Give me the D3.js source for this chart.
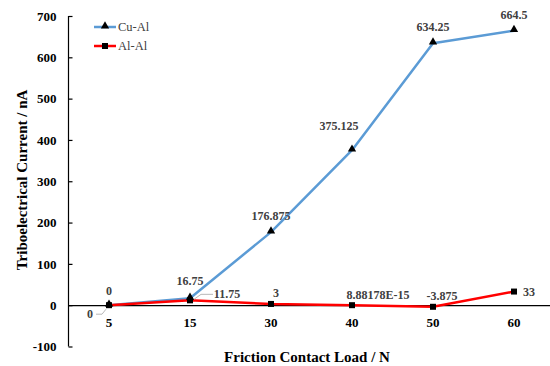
<!DOCTYPE html>
<html>
<head>
<meta charset="utf-8">
<script src="https://cdn.jsdelivr.net/npm/d3@7/dist/d3.min.js"></script>
<style>
  html, body { margin: 0; padding: 0; background: #fff; }
  svg { display: block; }
</style>
</head>
<body>
<div id="chart"></div>
<script>
// Friction contact loads (N) used as categories
const loads = ["5", "15", "30", "40", "50", "60"];
// Triboelectrical current (nA) for each material pair
const cuAl = [0, 16.75, 176.875, 375.125, 634.25, 664.5];
const alAl = [0, 11.75, 3, 8.88178e-15, -3.875, 33];
// Text shown next to each point
const cuAlLabels = ["0", "16.75", "176.875", "375.125", "634.25", "664.5"];
const alAlLabels = ["0", "11.75", "3", "8.88178E-15", "-3.875", "33"];
const yTicks = [-100, 0, 100, 200, 300, 400, 500, 600, 700];

const SERIF = "Liberation Serif";
const W = 550, H = 366;
const svg = d3.select("#chart").append("svg").attr("width", W).attr("height", H);

const x = d3.scaleBand().domain(loads).range([68.5, 554.5]);
const y = d3.scaleLinear().domain([-100, 700]).range([346.5, 16]);
const cx = d => x(d) + x.bandwidth() / 2;

// Y axis with inward ticks
const yAxis = svg.append("g").attr("transform", "translate(68.5,0)")
  .call(d3.axisLeft(y).tickValues(yTicks).tickSize(-4).tickFormat(d => String(d)));
yAxis.attr("font-family", SERIF);
yAxis.select(".domain").attr("stroke", "#000").attr("stroke-width", 1.2).attr("d", `M0,${y(-100)}V${y(700)}`);
yAxis.selectAll(".tick line").attr("stroke", "#000").attr("stroke-width", 1.2);
yAxis.selectAll(".tick text").attr("font-family", SERIF).attr("font-size", 13).attr("font-weight", "bold")
  .attr("fill", "#000").attr("x", -12);

// X axis on the zero line
const xAxis = svg.append("g").attr("transform", `translate(0,${y(0)})`)
  .call(d3.axisBottom(x).tickSize(0).tickPadding(13));
xAxis.attr("font-family", SERIF);
xAxis.select(".domain").attr("stroke", "#000").attr("stroke-width", 1.2);
xAxis.selectAll(".tick text").attr("font-family", SERIF).attr("font-size", 13).attr("font-weight", "bold").attr("fill", "#000");

// Axis titles
svg.append("text").attr("x", 307).attr("y", 362).attr("text-anchor", "middle")
  .attr("font-family", SERIF).attr("font-size", 15).attr("font-weight", "bold").attr("fill", "#000")
  .text("Friction Contact Load / N");
svg.append("text").attr("transform", "translate(27,180) rotate(-90)").attr("text-anchor", "middle")
  .attr("font-family", SERIF).attr("font-size", 15).attr("font-weight", "bold").attr("fill", "#000")
  .text("Triboelectrical Current / nA");

const line = d3.line().x((d, i) => cx(loads[i])).y(d => y(d));

// Cu-Al series
svg.append("path").datum(cuAl).attr("d", line).attr("fill", "none")
  .attr("stroke", "#5B9BD5").attr("stroke-width", 2.5).attr("stroke-linejoin", "round");
// Al-Al series
svg.append("path").datum(alAl).attr("d", line).attr("fill", "none")
  .attr("stroke", "#FF0000").attr("stroke-width", 2.5).attr("stroke-linejoin", "round");

const tri = d3.symbol().type(d3.symbolTriangle).size(30);
const sq = d3.symbol().type(d3.symbolSquare).size(36);

svg.selectAll(".cu").data(cuAl).enter().append("path")
  .attr("d", tri).attr("transform", (d, i) => `translate(${cx(loads[i])},${y(d) - 1})`).attr("fill", "#000");
svg.selectAll(".al").data(alAl).enter().append("path")
  .attr("d", sq).attr("transform", (d, i) => `translate(${cx(loads[i])},${y(d)})`).attr("fill", "#000");

// Data labels: offsets of the label centre from each point
const cuOff = [[0, -14], [0, -17], [0, -16], [-13, -24], [0, -16], [0, -16]];
const alOff = [[-19, 9], [37, -6], [5, -11], [26, -10], [9, -11], [15, 0]];
const labelG = svg.append("g");
const addLabel = (px, py, t) => labelG.append("text").attr("x", px).attr("y", py + 4)
  .attr("font-family", SERIF).attr("font-size", 12).attr("font-weight", "bold").attr("fill", "#404040")
  .attr("text-anchor", "middle").text(t);
cuAl.forEach((v, i) => addLabel(cx(loads[i]) + cuOff[i][0], y(v) + cuOff[i][1], cuAlLabels[i]));
alAl.forEach((v, i) => addLabel(cx(loads[i]) + alOff[i][0], y(v) + alOff[i][1], alAlLabels[i]));

// Leader lines for the labels placed away from their points
const lead = "#a6a6a6";
svg.append("path").attr("fill", "none").attr("stroke", lead).attr("stroke-width", 0.8)
  .attr("d", `M${cx("5") - 13},${y(0) + 9}L${cx("5") - 7},${y(0) + 9}L${cx("5") - 3},${y(0) + 4}`);
svg.append("path").attr("fill", "none").attr("stroke", lead).attr("stroke-width", 0.8)
  .attr("d", `M${cx("15") + 4},${y(11.75) - 1}L${cx("15") + 11},${y(11.75) - 6}L${cx("15") + 23},${y(11.75) - 6}`);

// Legend
const legend = svg.append("g");
[["Cu-Al", "#5B9BD5", tri, 27], ["Al-Al", "#FF0000", sq, 46]].forEach(([name, col, sym, ly]) => {
  legend.append("line").attr("x1", 94).attr("x2", 116).attr("y1", ly).attr("y2", ly)
    .attr("stroke", col).attr("stroke-width", 2.5);
  legend.append("path").attr("d", sym).attr("transform", `translate(105,${ly - (sym === tri ? 1 : 0)})`).attr("fill", "#000");
  legend.append("text").attr("x", 118).attr("y", ly + 4)
    .attr("font-family", SERIF).attr("font-size", 12.5).attr("fill", "#404040").text(name);
});
</script>
</body>
</html>
